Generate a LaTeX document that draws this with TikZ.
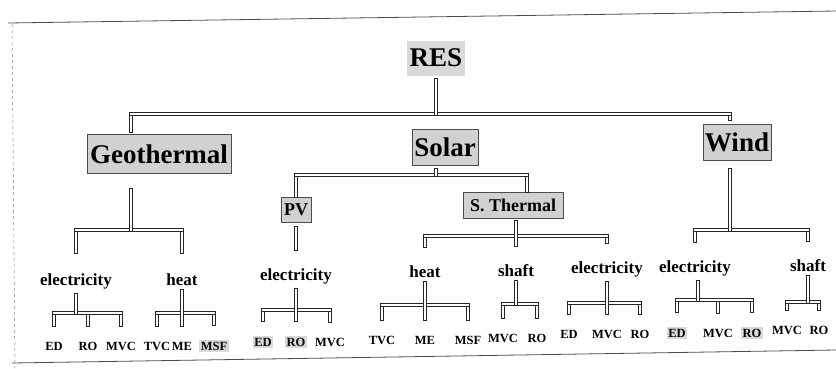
\documentclass[tikz,border=0pt]{standalone}
\usepackage{fontspec}
\setmainfont{Liberation Serif}
\usepackage{tikz}
\usetikzlibrary{calc}

% hollow pipes: half width and the two directions
\def\tw{1.4}
\newcommand{\vtube}[2]{\draw[tube] ($(#1)+(-\tw,0)$) rectangle ($(#2)+(\tw,0)$);}
\newcommand{\htube}[2]{\draw[tube] ($(#1)+(-\tw,-\tw)$) rectangle ($(#2)+(\tw,\tw)$);}

\begin{document}
\begin{tikzpicture}[
    x=1pt, y=-1pt,
    every node/.style={inner sep=0pt},
    rootbox/.style={fill=black!15, inner xsep=3pt, minimum height=35pt, font=\fontsize{27}{30}\selectfont\bfseries},
    srcbox/.style={draw=black!70, fill=black!18, inner xsep=2pt, minimum height=36pt, font=\fontsize{27}{30}\selectfont\bfseries},
    subbox/.style={draw=black!70, fill=black!18, inner xsep=3pt, minimum height=25pt, font=\fontsize{18}{20}\selectfont\bfseries},
    usage/.style={anchor=base, font=\fontsize{17}{19}\selectfont\bfseries},
    leaf/.style={anchor=base, font=\fontsize{12.5}{15}\selectfont\bfseries},
    hilite/.style={fill=black!15, inner sep=1.5pt},
    tube/.style={draw=black!85, fill=white, line width=0.5pt},
    scanline/.style={draw=black!70, line width=0.8pt}
]
\useasboundingbox (0,0) rectangle (836,368);

% scan frame
\draw[scanline] (8,23) -- (836,11);
\draw[scanline, dashed, draw=black!50, line width=0.5pt] (12,24) -- (15,368);
\draw[scanline] (12,363) -- (836,350);

% root and sources
\node[rootbox] (res) at (436,58) {RES};
\node[srcbox, minimum height=39pt, inner xsep=3pt] (geo) at (159,154) {Geothermal};
\node[srcbox] (solar) at (445,147) {Solar};
\node[srcbox] (wind) at (737,142) {Wind};

% solar branches
\node[subbox] (pv) at (296,210) {PV};
\node[subbox, minimum width=100pt, minimum height=26pt] (sth) at (513,205) {S. Thermal};

% usage row
\node[usage] (gelec)  at (76,285)  {electricity};
\node[usage] (gheat)  at (182,285) {heat};
\node[usage] (pel)    at (296,280) {electricity};
\node[usage] (sheat)  at (425,277) {heat};
\node[usage] (sshaft) at (516,276) {shaft};
\node[usage] (selec)  at (607,273) {electricity};
\node[usage] (welec)  at (695,272) {electricity};
\node[usage] (wshaft) at (808,271) {shaft};

% process row
\node[leaf] (gED)  at (54,350)  {ED};
\node[leaf] (gRO)  at (88,350)  {RO};
\node[leaf] (gMVC) at (121,350) {MVC};
\node[leaf] (hTVC) at (157,350) {TVC};
\node[leaf] (hME)  at (182,350) {ME};
\node[leaf, hilite] (hMSF) at (214,350) {MSF};
\node[leaf, hilite] (pED)  at (263,346) {ED};
\node[leaf, hilite] (pRO)  at (296,346) {RO};
\node[leaf] (pMVC) at (330,346) {MVC};
\node[leaf] (tTVC) at (382,344) {TVC};
\node[leaf] (tME)  at (425,344) {ME};
\node[leaf] (tMSF) at (468,344) {MSF};
\node[leaf] (fMVC) at (503,342) {MVC};
\node[leaf] (fRO)  at (537,342) {RO};
\node[leaf] (eED)  at (569,338) {ED};
\node[leaf] (eMVC) at (607,338) {MVC};
\node[leaf] (eRO)  at (640,338) {RO};
\node[leaf, hilite] (wED)  at (677,337) {ED};
\node[leaf] (wMVC) at (718,337) {MVC};
\node[leaf, hilite] (wRO)  at (752,337) {RO};
\node[leaf] (kMVC) at (787,334) {MVC};
\node[leaf] (kRO)  at (819,334) {RO};

% junctions
\coordinate (resJ)    at (436,114);
\coordinate (geoJ)    at (131,230);
\coordinate (solJ)    at (436,175);
\coordinate (sthin)   at ([xshift=14pt]sth.north);
\coordinate (sthJ)    at (516,236);
\coordinate (windJ)   at (730,230);
\coordinate (gelecJ)  at (76,313);
\coordinate (gheatJ)  at (182,313);
\coordinate (pelJ)    at (296,310);
\coordinate (sheatJ)  at (425,305);
\coordinate (sshaftJ) at (516,304);
\coordinate (selecJ)  at (607,303);
\coordinate (welecJ)  at (698,300);
\coordinate (wshaftJ) at (808,302);

% RES level
\vtube{resJ -| geoJ}{[xshift=-28pt,yshift=2pt]geo.north}
\vtube{resJ -| windJ}{[xshift=-7pt,yshift=4pt]wind.north}
\htube{resJ -| geoJ}{resJ -| windJ}
\vtube{[yshift=-3pt]res.south}{[yshift=-1.4pt]resJ}

% Geothermal
\foreach \u in {gelec,gheat} {\vtube{geoJ -| \u}{[yshift=20pt]\u.north}}
\htube{geoJ -| gelec}{geoJ -| gheat}
\vtube{[xshift=-28pt,yshift=-15pt]geo.south}{[yshift=-1.4pt]geoJ}

% Solar
\vtube{solJ -| pv}{pv.north}
\vtube{solJ -| sthin}{sthin}
\htube{solJ -| pv}{solJ -| sthin}
\vtube{[xshift=-9pt,yshift=-3pt]solar.south}{[yshift=-1.4pt]solJ}
\vtube{[yshift=-4pt]pv.south}{[yshift=18pt]pel.north}

% S. Thermal
\foreach \u in {sheat,selec} {\vtube{sthJ -| \u}{[yshift=18pt]\u.north}}
\htube{sthJ -| sheat}{sthJ -| selec}
\vtube{[xshift=3pt,yshift=-2pt]sth.south}{[yshift=18pt]sshaft.north}

% Wind
\foreach \u in {welec,wshaft} {\vtube{windJ -| \u}{[yshift=18pt]\u.north}}
\htube{windJ -| welec}{windJ -| wshaft}
\vtube{[xshift=-7pt,yshift=-8pt]wind.south}{[yshift=-1.4pt]windJ}

% usage to process
\foreach \l in {gED,gRO,gMVC} {\vtube{gelecJ -| \l}{[yshift=15pt]\l.north}}
\htube{gelecJ -| gED}{gelecJ -| gMVC}
\vtube{[yshift=-4pt]gelec.south}{[yshift=-1.4pt]gelecJ}

\foreach \l in {hTVC,hMSF} {\vtube{gheatJ -| \l}{[yshift=15pt]\l.north}}
\htube{gheatJ -| hTVC}{gheatJ -| hMSF}
\vtube{[yshift=-4pt]gheat.south}{[yshift=15pt]hME.north}

\foreach \l in {pED,pMVC} {\vtube{pelJ -| \l}{[yshift=15pt]\l.north}}
\htube{pelJ -| pED}{pelJ -| pMVC}
\vtube{[yshift=-4pt]pel.south}{[yshift=15pt]pRO.north}

\foreach \l in {tTVC,tMSF} {\vtube{sheatJ -| \l}{[yshift=15pt]\l.north}}
\htube{sheatJ -| tTVC}{sheatJ -| tMSF}
\vtube{[yshift=-4pt]sheat.south}{[yshift=15pt]tME.north}

\foreach \l in {fMVC,fRO} {\vtube{sshaftJ -| \l}{[yshift=15pt]\l.north}}
\htube{sshaftJ -| fMVC}{sshaftJ -| fRO}
\vtube{[yshift=-4pt]sshaft.south}{[yshift=-1.4pt]sshaftJ}

\foreach \l in {eED,eRO} {\vtube{selecJ -| \l}{[yshift=15pt]\l.north}}
\htube{selecJ -| eED}{selecJ -| eRO}
\vtube{[yshift=-4pt]selec.south}{[yshift=15pt]eMVC.north}

\foreach \l in {wED,wMVC,wRO} {\vtube{welecJ -| \l}{[yshift=15pt]\l.north}}
\htube{welecJ -| wED}{welecJ -| wRO}
\vtube{[xshift=3pt,yshift=-4pt]welec.south}{[yshift=-1.4pt]welecJ}

\foreach \l in {kMVC,kRO} {\vtube{wshaftJ -| \l}{[yshift=15pt]\l.north}}
\htube{wshaftJ -| kMVC}{wshaftJ -| kRO}
\vtube{[yshift=-4pt]wshaft.south}{[yshift=-1.4pt]wshaftJ}

\end{tikzpicture}
\end{document}
